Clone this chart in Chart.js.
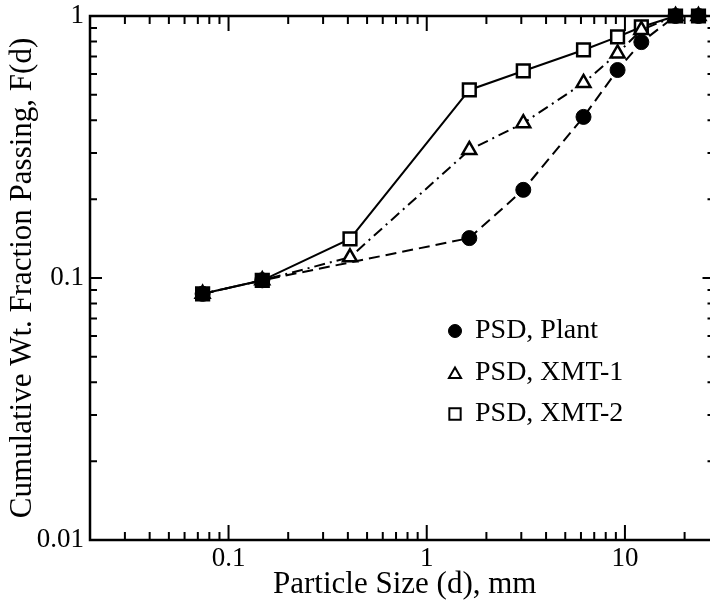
<!DOCTYPE html>
<html><head><meta charset="utf-8">
<script src="https://cdn.jsdelivr.net/npm/chart.js@4/dist/chart.umd.min.js"></script>
<style>
html,body{margin:0;padding:0;background:#fff;overflow:hidden;}
#wrap{width:710px;height:603px;overflow:hidden;position:relative;background:#fff;}
canvas{display:block;}
</style></head><body>
<div id="wrap"><canvas id="c" width="731" height="603" style="width:731px;height:603px"></canvas></div>
<script>
// ---- data ----
const sizesMm       = [0.074, 0.148, 0.41, 1.64, 3.07, 6.18, 9.18, 12.1, 18.0, 23.5];
const plantFraction = [0.087, 0.098, null, 0.142, 0.217, 0.412, 0.622, 0.795, 1.0, 1.0];
const xmt1Fraction  = [0.087, 0.098, 0.120, 0.308, 0.390, 0.555, 0.720, 0.885, 1.0, 1.0];
const xmt2Fraction  = [0.087, 0.098, 0.141, 0.522, 0.617, 0.742, 0.832, 0.908, 1.0, 1.0];
const seriesLabels  = ['PSD, Plant', 'PSD, XMT-1', 'PSD, XMT-2'];
const xTickLabels   = ['0.1', '1', '10'];
const yTickLabels   = ['0.01', '0.1', '1'];
const xRange        = [0.02, 30];
const yRange        = [0.01, 1];
const xTitle        = 'Particle Size (d), mm';
const yTitle        = 'Cumulative Wt. Fraction Passing, F(d)';

const serif = "'Liberation Serif', 'Times New Roman', serif";

function pts(ys) {
  return sizesMm.map((x, i) => ({ x: x, y: ys[i] })).filter(p => p.y !== null);
}
function tickCb(labels) {
  return function (v) {
    for (const l of labels) {
      if (Math.abs(Math.log10(v) - Math.log10(parseFloat(l))) < 1e-6) return l;
    }
    return '';
  };
}
function tickVals(min, max) {
  const out = [];
  for (let e = Math.floor(Math.log10(min)) - 1; e <= Math.ceil(Math.log10(max)); e++) {
    for (let m = 1; m <= 9; m++) {
      const v = m * Math.pow(10, e);
      if (v >= min * 0.9999 && v <= max * 1.0001) out.push({ v: v, major: m === 1 });
    }
  }
  return out;
}

const framePlugin = {
  id: 'frame',
  beforeDatasetsDraw(chart) {
    const { ctx, chartArea, scales } = chart;
    const { left, right, top, bottom } = chartArea;
    const x = scales.x, y = scales.y;
    ctx.save();
    ctx.strokeStyle = '#000';
    ctx.lineWidth = 2.5;
    ctx.strokeRect(left, top, right - left, bottom - top);
    ctx.lineWidth = 2;
    ctx.beginPath();
    for (const t of tickVals(x.min, x.max)) {
      const px = x.getPixelForValue(t.v);
      const len = t.major ? 15 : 8;
      ctx.moveTo(px, bottom); ctx.lineTo(px, bottom - len);
      ctx.moveTo(px, top); ctx.lineTo(px, top + len);
    }
    for (const t of tickVals(y.min, y.max)) {
      const py = y.getPixelForValue(t.v);
      const len = t.major ? 12 : 7;
      const rlen = t.major ? 17 : 12;
      ctx.moveTo(left, py); ctx.lineTo(left + len, py);
      ctx.moveTo(right, py); ctx.lineTo(right - rlen, py);
    }
    ctx.stroke();
    ctx.restore();
  }
};

const legendPlugin = {
  id: 'insideLegend',
  afterDraw(chart) {
    const ctx = chart.ctx;
    const symX = 455, textX = 475;
    const rows = [331, 373, 414];
    ctx.save();
    chart.data.datasets.forEach((ds, i) => {
      const yy = rows[i];
      ctx.fillStyle = ds.pointBackgroundColor;
      ctx.strokeStyle = '#000';
      ctx.lineWidth = ds.pointStyle === 'circle' ? 1 : 2;
      Chart.helpers.drawPoint(ctx, {
        pointStyle: ds.pointStyle,
        radius: ds.pointStyle === 'circle' ? 6.5 : (ds.pointStyle === 'rect' ? 8 : 7),
        borderWidth: ctx.lineWidth,
        rotation: 0
      }, symX, ds.pointStyle === 'triangle' ? yy + 1.5 : yy);
      ctx.fillStyle = '#000';
      ctx.font = '28px ' + serif;
      ctx.textBaseline = 'middle';
      ctx.textAlign = 'left';
      ctx.fillText(ds.label, textX, yy);
    });
    ctx.restore();
  }
};

new Chart(document.getElementById('c'), {
  type: 'line',
  data: {
    datasets: [
      {
        label: seriesLabels[0], data: pts(plantFraction),
        borderColor: '#000', borderWidth: 2, borderDash: [11, 6],
        pointStyle: 'circle', pointRadius: 7.5, pointBackgroundColor: '#000',
        pointBorderColor: '#000', pointBorderWidth: 1, tension: 0, clip: false
      },
      {
        label: seriesLabels[1], data: pts(xmt1Fraction),
        borderColor: '#000', borderWidth: 2, borderDash: [11, 5, 2, 5],
        pointStyle: 'triangle', pointRadius: 8, pointBackgroundColor: '#fff',
        pointBorderColor: '#000', pointBorderWidth: 2.5, tension: 0, clip: false
      },
      {
        label: seriesLabels[2], data: pts(xmt2Fraction),
        borderColor: '#000', borderWidth: 2,
        pointStyle: 'rect', pointRadius: 9, pointBackgroundColor: '#fff',
        pointBorderColor: '#000', pointBorderWidth: 2.5, tension: 0, clip: false
      }
    ]
  },
  options: {
    responsive: false,
    animation: false,
    devicePixelRatio: 1,
    layout: { padding: { top: 16, right: 2, left: 0, bottom: 0 } },
    plugins: { legend: { display: false }, tooltip: { enabled: false } },
    scales: {
      x: {
        type: 'logarithmic', min: xRange[0], max: xRange[1],
        grid: { display: false, drawTicks: false }, border: { display: false },
        ticks: { autoSkip: false, maxRotation: 0, padding: 3, color: '#000',
                 font: { family: serif, size: 27 }, callback: tickCb(xTickLabels) },
        title: { display: true, text: xTitle, color: '#000',
                 font: { family: serif, size: 31 }, padding: { top: 0, bottom: 0 } },
        afterFit(s) { s.height = 63; s.paddingLeft = 0; s.paddingRight = 0; }
      },
      y: {
        type: 'logarithmic', min: yRange[0], max: yRange[1],
        grid: { display: false, drawTicks: false }, border: { display: false },
        ticks: { autoSkip: false, padding: 6, color: '#000',
                 font: { family: serif, size: 27 }, callback: tickCb(yTickLabels) },
        title: { display: true, text: yTitle, color: '#000',
                 font: { family: serif, size: 31 }, padding: { top: 4, bottom: 0 } },
        afterFit(s) { s.width = 90; s.paddingTop = 0; s.paddingBottom = 0; }
      }
    }
  },
  plugins: [framePlugin, legendPlugin]
});
</script>
</body></html>
